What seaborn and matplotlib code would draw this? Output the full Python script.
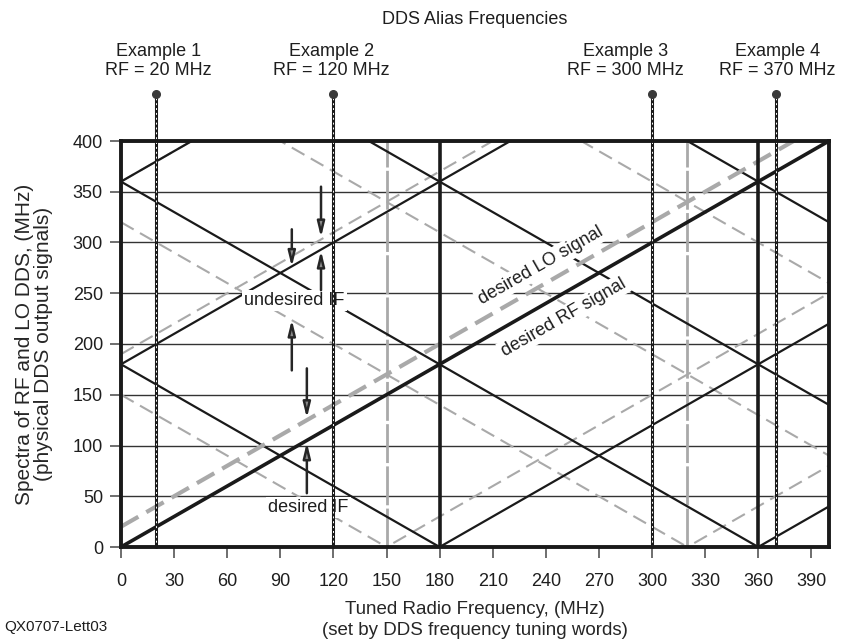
import numpy as np
import pandas as pd
import matplotlib
matplotlib.use("Agg")
import matplotlib.pyplot as plt
import seaborn as sns

sns.set_style("ticks")
plt.rcParams["font.family"] = ["Liberation Sans", "DejaVu Sans"]
plt.rcParams["text.color"] = "#1e1e1e"

# Tuned RF sweep (MHz)
x_range = [0, 400]

# Desired outputs: y = x + offset
desired_rf_offset = 0
desired_lo_offset = 20

# RF DDS alias lines (slope sign, intercept in MHz)
rf_alias_sign = [-1, 1, -1, 1, -1, -1, 1, 1]
rf_alias_offset = [180, 180, 360, 360, 540, 720, -180, -360]

# LO DDS alias lines (slope sign, intercept in MHz)
lo_alias_sign = [-1, 1, -1, 1, -1, -1, 1, 1]
lo_alias_offset = [150, 190, 320, 360, 490, 660, -150, -320]

# Tuned frequencies where an alias folds through 0 MHz
rf_nulls = [180, 360]
lo_nulls = [150, 320]

# Worked examples
example_names = ["Example 1", "Example 2", "Example 3", "Example 4"]
example_rf = [20, 120, 300, 370]
example_label_x = [21, 119, 285, 371]
example_top = 446

# IF markers: x, tail y, head y
undesired_arrows = [(96.5, 313, 276), (113, 355, 305), (113, 253, 292), (96.5, 174, 224)]
desired_arrows = [(105, 176, 127), (105, 53, 103)]

x_ticks = list(range(0, 391, 30))
y_ticks = list(range(0, 401, 50))


def line_frame(signs, offsets, name):
    rows = []
    for i, (s, b) in enumerate(zip(signs, offsets)):
        for x in x_range:
            rows.append({"line": f"{name}{i}", "x": x, "y": s * x + b})
    return pd.DataFrame(rows)


fig = plt.figure(figsize=(8.42, 6.40), dpi=100)
ax = fig.add_axes([121 / 842, 1 - 547 / 640, 708 / 842, 406 / 640])

ax.set_xlim(0, 400)
ax.set_ylim(0, 400)
ax.set_yticks(y_ticks)
ax.set_xticks(x_ticks)
ax.grid(axis="y", color="#333333", lw=1.0, zorder=0.5)
ax.set_axisbelow(True)

gray = "#a9a9a9"
black = "#1a1a1a"

# LO aliases (gray dashed)
lo_df = line_frame(lo_alias_sign, lo_alias_offset, "lo")
sns.lineplot(data=lo_df, x="x", y="y", units="line", estimator=None, sort=False,
             color=gray, lw=1.5, linestyle=(0, (7, 3.5)), ax=ax, zorder=2)

# RF aliases (black thin)
rf_df = line_frame(rf_alias_sign, rf_alias_offset, "rf")
sns.lineplot(data=rf_df, x="x", y="y", units="line", estimator=None, sort=False,
             color=black, lw=1.6, ax=ax, zorder=3)

# Desired LO and RF
lo_main = line_frame([1], [desired_lo_offset], "lo_main")
sns.lineplot(data=lo_main, x="x", y="y", units="line", estimator=None, sort=False,
             color=gray, lw=3.0, linestyle=(0, (4.8, 2.2)), ax=ax, zorder=3.2)
rf_main = line_frame([1], [desired_rf_offset], "rf_main")
sns.lineplot(data=rf_main, x="x", y="y", units="line", estimator=None, sort=False,
             color=black, lw=2.6, ax=ax, zorder=3.4)

# Fold points
ax.vlines(lo_nulls, 0, 400, colors=gray, lw=2.0, linestyles=[(0, (14, 1.2))], zorder=2.5)
ax.vlines(rf_nulls, 0, 400, colors=black, lw=2.6, zorder=3.5)

# Annotations
box = dict(facecolor="white", edgecolor="none", pad=1.5)
ax.text(98, 243, "undesired IF", fontsize=13, ha="center", va="center", bbox=box, zorder=5)
ax.text(106, 39, "desired IF", fontsize=13, ha="center", va="center", bbox=box, zorder=5)
ax.text(237, 277, "desired LO signal", fontsize=13, ha="center", va="center",
        rotation=45, transform_rotates_text=True, rotation_mode="anchor", bbox=box, zorder=5)
ax.text(250, 226, "desired RF signal", fontsize=13, ha="center", va="center",
        rotation=45, transform_rotates_text=True, rotation_mode="anchor", bbox=box, zorder=5)

for x, y0, y1 in undesired_arrows + desired_arrows:
    ax.annotate("", xy=(x, y1), xytext=(x, y0),
                arrowprops=dict(arrowstyle="-|>,head_length=0.9,head_width=0.22",
                                lw=1.8, ec="#262626", fc="#8a8a8a",
                                shrinkA=0, shrinkB=0), zorder=7)

# Example markers
for name, rf, lx in zip(example_names, example_rf, example_label_x):
    ax.plot([rf, rf], [0, example_top], color=black, lw=2.2, clip_on=False, zorder=6)
    ax.plot([rf, rf], [0, example_top], color="white", lw=0.7, ls=(0, (2, 3)),
            clip_on=False, zorder=6.1)
    ax.plot([rf], [example_top], "o", color="#3a3a3a", ms=5.5, clip_on=False, zorder=6.2)
    ax.text(lx, 461, f"{name}\nRF = {rf} MHz", fontsize=13, ha="center", va="bottom",
            linespacing=1.15)

for side in ["left", "right", "top", "bottom"]:
    ax.spines[side].set_visible(True)
    ax.spines[side].set_linewidth(2.8)
    ax.spines[side].set_color(black)
    ax.spines[side].set_zorder(8)

ax.tick_params(axis="both", direction="out", length=8, width=1.2, color="#555555",
               labelsize=13, labelcolor="#1e1e1e")
ax.tick_params(axis="x", pad=11)
ax.tick_params(axis="y", pad=5)

ax.set_xlabel("Tuned Radio Frequency, (MHz)\n(set by DDS frequency tuning words)",
              fontsize=13.5, labelpad=8, linespacing=1.3)
ax.set_ylabel("Spectra of RF and LO DDS, (MHz)\n(physical DDS output signals)",
              fontsize=15, labelpad=14, linespacing=1.0)

fig.text((121 + 829) / 2 / 842, 1 - 19 / 640, "DDS Alias Frequencies", fontsize=13,
         ha="center", va="center")
fig.text(4 / 842, 1 - 627 / 640, "QX0707-Lett03", fontsize=11, ha="left", va="center")

fig.savefig("out.png", dpi=100)
